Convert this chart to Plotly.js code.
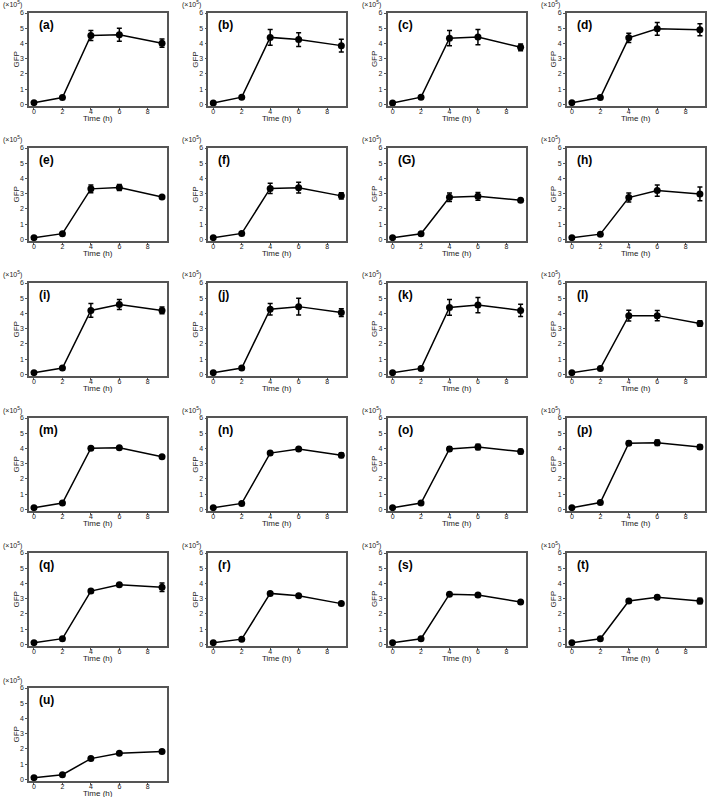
<!DOCTYPE html>
<html>
<head>
<meta charset="utf-8">
<script src="https://cdn.plot.ly/plotly-3.0.1.min.js"></script>
<style>
  html, body { margin: 0; padding: 0; background: #fff; }
  #chart { width: 709px; height: 797px; }
</style>
</head>
<body>
<div id="chart"></div>
<script>
// sampling times (h)
const times = [0, 2, 4, 6, 9];
const panelLabels = ['(a)', '(b)', '(c)', '(d)', '(e)', '(f)', '(G)', '(h)', '(i)', '(j)', '(k)',
                     '(l)', '(m)', '(n)', '(o)', '(p)', '(q)', '(r)', '(s)', '(t)', '(u)'];

// GFP (x10^5), one row per panel
const gfpMean = [
    [0.12, 0.45, 4.52, 4.57, 4.02],
    [0.10, 0.48, 4.40, 4.26, 3.86],
    [0.10, 0.48, 4.35, 4.42, 3.75],
    [0.12, 0.45, 4.37, 4.96, 4.90],
    [0.12, 0.38, 3.32, 3.41, 2.79],
    [0.12, 0.40, 3.35, 3.40, 2.86],
    [0.12, 0.38, 2.77, 2.83, 2.57],
    [0.12, 0.35, 2.75, 3.21, 2.99],
    [0.12, 0.42, 4.20, 4.59, 4.20],
    [0.12, 0.42, 4.28, 4.45, 4.06],
    [0.12, 0.40, 4.40, 4.55, 4.20],
    [0.12, 0.40, 3.86, 3.86, 3.34],
    [0.12, 0.42, 4.02, 4.05, 3.46],
    [0.12, 0.40, 3.70, 3.97, 3.56],
    [0.12, 0.42, 3.97, 4.10, 3.80],
    [0.12, 0.45, 4.35, 4.38, 4.10],
    [0.12, 0.38, 3.50, 3.92, 3.75],
    [0.12, 0.35, 3.35, 3.20, 2.68],
    [0.12, 0.38, 3.30, 3.25, 2.78],
    [0.12, 0.38, 2.85, 3.10, 2.85],
    [0.12, 0.31, 1.37, 1.72, 1.84]
];
const gfpErr = [
    [0.04, 0.05, 0.33, 0.43, 0.27],
    [0.04, 0.05, 0.52, 0.45, 0.42],
    [0.04, 0.05, 0.50, 0.50, 0.22],
    [0.04, 0.05, 0.30, 0.42, 0.40],
    [0.04, 0.04, 0.25, 0.20, 0.08],
    [0.04, 0.04, 0.33, 0.35, 0.20],
    [0.04, 0.04, 0.28, 0.25, 0.12],
    [0.04, 0.04, 0.30, 0.37, 0.45],
    [0.04, 0.04, 0.45, 0.32, 0.22],
    [0.04, 0.04, 0.38, 0.55, 0.25],
    [0.04, 0.04, 0.52, 0.50, 0.40],
    [0.04, 0.04, 0.35, 0.33, 0.18],
    [0.04, 0.04, 0.10, 0.08, 0.08],
    [0.04, 0.04, 0.10, 0.10, 0.15],
    [0.04, 0.04, 0.15, 0.18, 0.15],
    [0.04, 0.04, 0.12, 0.18, 0.15],
    [0.04, 0.04, 0.10, 0.10, 0.28],
    [0.04, 0.04, 0.10, 0.10, 0.10],
    [0.04, 0.04, 0.10, 0.10, 0.10],
    [0.04, 0.04, 0.12, 0.12, 0.18],
    [0.03, 0.04, 0.06, 0.07, 0.07]
];
const xTicks = [0, 2, 4, 6, 8];
const yTicks = [0, 1, 2, 3, 4, 5, 6];

const W = 709, H = 797;
const colLeft = 29, colStep = 179.3, plotW = 138;
const rowTop = 13, rowStep = 135, plotH = 93;
const frameColor = '#555';
const font = 'Arial, "Liberation Sans", sans-serif';

const data = [];
const layout = {
    width: W, height: H,
    margin: {t: 0, l: 0, r: 0, b: 0},
    paper_bgcolor: '#fff', plot_bgcolor: '#fff',
    showlegend: false,
    font: {family: font, color: '#222', size: 8},
    annotations: []
};

gfpMean.forEach((vals, i) => {
    const n = i + 1;
    const col = i % 4, row = Math.floor(i / 4);
    const x0 = colLeft + col * colStep, y0 = rowTop + row * rowStep;
    const xa = 'x' + (n > 1 ? n : ''), ya = 'y' + (n > 1 ? n : '');

    data.push({
        x: times, y: vals,
        xaxis: xa, yaxis: ya,
        type: 'scatter', mode: 'lines+markers',
        line: {color: '#000', width: 1.5},
        marker: {color: '#000', size: 7},
        error_y: {type: 'data', array: gfpErr[i], color: '#000', thickness: 1.5, width: 2.5}
    });

    layout['xaxis' + (n > 1 ? n : '')] = {
        domain: [x0 / W, (x0 + plotW) / W],
        range: [-0.35, 9.35],
        tickvals: xTicks,
        anchor: ya,
        showline: true, mirror: true, linecolor: frameColor, linewidth: 1.5,
        showgrid: false, zeroline: false,
        ticks: 'outside', ticklen: 2, tickcolor: frameColor,
        ticklabelstandoff: -4,
        tickfont: {size: 7, color: '#222'}
    };
    layout['yaxis' + (n > 1 ? n : '')] = {
        domain: [1 - (y0 + plotH) / H, 1 - y0 / H],
        range: [-0.1, 6],
        tickvals: yTicks,
        anchor: xa,
        showline: true, mirror: true, linecolor: frameColor, linewidth: 1.5,
        showgrid: false, zeroline: false,
        ticks: 'outside', ticklen: 2, tickcolor: frameColor,
        tickfont: {size: 7, color: '#222'}
    };

    const cx = (x0 + plotW / 2) / W;
    const cy = 1 - (y0 + plotH / 2) / H;
    layout.annotations.push(
        {text: '<b>' + panelLabels[i] + '</b>', xref: 'paper', yref: 'paper',
         x: (x0 + 8) / W, y: 1 - (y0 + 12) / H, xanchor: 'left', yanchor: 'middle',
         showarrow: false, font: {size: 12, color: '#000'}},
        {text: '(×10<sup>5</sup>)', xref: 'paper', yref: 'paper',
         x: (x0 - 28) / W, y: 1 - (y0 - 8) / H, xanchor: 'left', yanchor: 'middle',
         showarrow: false, font: {size: 7, color: '#222'}},
        {text: 'GFP', xref: 'paper', yref: 'paper', textangle: -90,
         x: (x0 - 13) / W, y: cy, xanchor: 'center', yanchor: 'middle',
         showarrow: false, font: {size: 8, color: '#222'}},
        {text: 'Time (h)', xref: 'paper', yref: 'paper',
         x: cx, y: 1 - (y0 + plotH + 12.5) / H, xanchor: 'center', yanchor: 'middle',
         showarrow: false, font: {size: 8, color: '#222'}}
    );
});

Plotly.newPlot('chart', data, layout, {displayModeBar: false});
</script>
</body>
</html>
